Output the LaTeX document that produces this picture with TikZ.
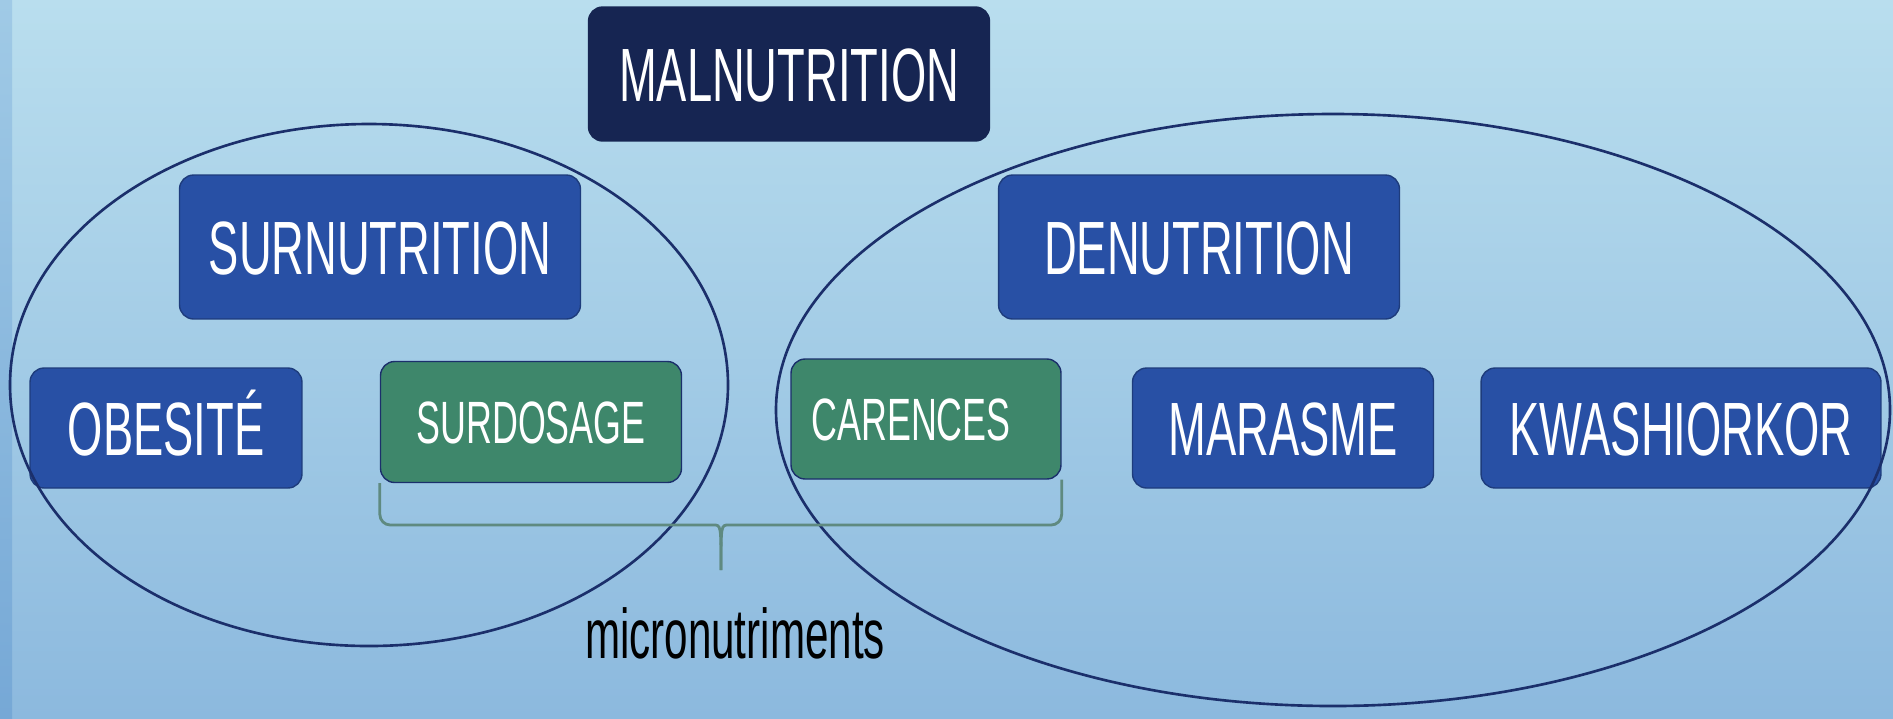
\documentclass[tikz,border=0pt]{standalone}
\usepackage{fontspec}
\setmainfont[FakeStretch=0.6]{Liberation Sans}
\usepackage{tikz}
\usetikzlibrary{shapes,positioning}

\definecolor{navy}{RGB}{22,37,82}
\definecolor{boxblue}{RGB}{40,80,165}
\definecolor{boxgreen}{RGB}{62,135,107}
\definecolor{ringblue}{RGB}{27,47,107}
\definecolor{bracegray}{RGB}{95,138,128}
\definecolor{bgtop}{RGB}{185,222,238}
\definecolor{bgbottom}{RGB}{140,185,222}
\definecolor{edgetop}{RGB}{160,202,230}
\definecolor{edgebottom}{RGB}{118,168,214}

\begin{document}
\begin{tikzpicture}[x=0.02cm,y=-0.02cm,
  box/.style={rounded corners=8pt,text=white,inner sep=0pt,
    text depth=0pt,line width=0.8pt},
  bluebox/.style={box,fill=boxblue,draw=boxblue!75!black,
    font=\fontsize{43}{50}\selectfont,text height=31pt},
  greenbox/.style={box,fill=boxgreen,draw=ringblue,
    font=\fontsize{34}{40}\selectfont,text height=24.5pt,
    minimum width=6.02cm,minimum height=2.42cm},
  ring/.style={draw=ringblue,line width=1.5pt},
  bracket/.style={draw=bracegray,line width=1.6pt,rounded corners=6pt}]
  \useasboundingbox (0,0) rectangle (1893,718);
  \fill[top color=bgtop,bottom color=bgbottom] (0,0) rectangle (1893,718);
  \fill[top color=edgetop,bottom color=edgebottom] (0,0) rectangle (12,718);

  \node[bluebox,fill=navy,draw=navy,minimum width=8.02cm,minimum height=2.68cm] (mal) at (789,74) {MALNUTRITION};
  \node[bluebox,minimum width=8.02cm,minimum height=2.88cm] (sur) at (380,247) {SURNUTRITION};
  \node[bluebox,minimum width=8.02cm,minimum height=2.88cm] (den) at (1199,247) {DENUTRITION};

  \node[bluebox,minimum width=5.44cm,minimum height=2.4cm] (obe) at (166,428) {OBESITÉ};
  \node[greenbox] (surdo) at (531,422) {SURDOSAGE};
  \node[greenbox,minimum width=5.4cm,minimum height=2.4cm] (car) at (926,419) {\hspace*{-0.6cm}CARENCES};
  \node[bluebox,minimum width=6.02cm,minimum height=2.4cm] (mara) at (1283,428) {MARASME};
  \node[bluebox,minimum width=8.0cm,minimum height=2.4cm] (kwash) at (1681,428) {KWASHIORKOR};

  % groupes
  \draw[ring] (369,385) ellipse [x radius=359,y radius=261];
  \draw[ring] (1333,410) ellipse [x radius=557,y radius=296];

  % accolade
  \coordinate (tip) at (721,570);
  \draw[bracket] (surdo.south west) |- (703,525) .. controls (721,525) .. (tip);
  \draw[bracket] (car.south east) |- (739,525) .. controls (721,525) .. (tip);
  \node[anchor=base,font=\fontsize{40}{46}\selectfont] (micro) at (735,658) {micronutriments};
\end{tikzpicture}
\end{document}
